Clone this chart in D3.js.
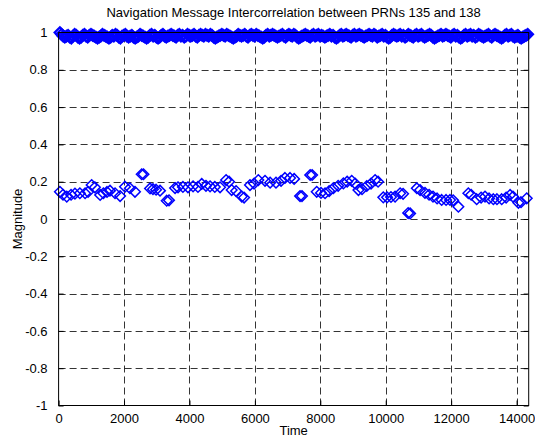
<!DOCTYPE html>
<html><head><meta charset="utf-8">
<script src="https://cdn.jsdelivr.net/npm/d3@7"></script>
<style>
body{margin:0;background:#fff}
text{font-family:"Liberation Sans",Arial,Helvetica,sans-serif;fill:#000}
</style>
</head><body>
<svg id="chart" width="535" height="438"></svg>
<script>
const titleText = "Navigation Message Intercorrelation between PRNs 135 and 138";
const xLabel = "Time";
const yLabel = "Magnitude";
const xTicks = [0, 2000, 4000, 6000, 8000, 10000, 12000, 14000];
const yTicks = [-1, -0.8, -0.6, -0.4, -0.2, 0, 0.2, 0.4, 0.6, 0.8, 1];
const xDomain = [0, 14370];
const yDomain = [-1, 1];

// near-1 series (self correlation), one point every 50 time units
const highTimes = [
40,90,140,190,240,290,340,390,440,490,540,590,640,690,740,790,840,890,940,990,
1040,1090,1140,1190,1240,1290,1340,1390,1440,1490,1540,1590,1640,1690,1740,1790,1840,1890,1940,1990,
2040,2090,2140,2190,2240,2290,2340,2390,2440,2490,2540,2590,2640,2690,2740,2790,2840,2890,2940,2990,
3040,3090,3140,3190,3240,3290,3340,3390,3440,3490,3540,3590,3640,3690,3740,3790,3840,3890,3940,3990,
4040,4090,4140,4190,4240,4290,4340,4390,4440,4490,4540,4590,4640,4690,4740,4790,4840,4890,4940,4990,
5040,5090,5140,5190,5240,5290,5340,5390,5440,5490,5540,5590,5640,5690,5740,5790,5840,5890,5940,5990,
6040,6090,6140,6190,6240,6290,6340,6390,6440,6490,6540,6590,6640,6690,6740,6790,6840,6890,6940,6990,
7040,7090,7140,7190,7240,7290,7340,7390,7440,7490,7540,7590,7640,7690,7740,7790,7840,7890,7940,7990,
8040,8090,8140,8190,8240,8290,8340,8390,8440,8490,8540,8590,8640,8690,8740,8790,8840,8890,8940,8990,
9040,9090,9140,9190,9240,9290,9340,9390,9440,9490,9540,9590,9640,9690,9740,9790,9840,9890,9940,9990,
10040,10090,10140,10190,10240,10290,10340,10390,10440,10490,10540,10590,10640,10690,10740,10790,10840,10890,10940,10990,
11040,11090,11140,11190,11240,11290,11340,11390,11440,11490,11540,11590,11640,11690,11740,11790,11840,11890,11940,11990,
12040,12090,12140,12190,12240,12290,12340,12390,12440,12490,12540,12590,12640,12690,12740,12790,12840,12890,12940,12990,
13040,13090,13140,13190,13240,13290,13340,13390,13440,13490,13540,13590,13640,13690,13740,13790,13840,13890,13940,13990,
14040,14090,14140,14190,14240,14290,14340];
const highValues = [
1,.99,.98,.975,.98,.985,.975,.97,.98,.99,.985,.975,.97,.975,.985,.99,.98,.975,.985,.99,
.985,.98,.975,.97,.975,.98,.99,.985,.98,.975,.97,.975,.985,.98,.99,.985,.975,.97,.98,.985,
.99,.98,.975,.98,.985,.975,.97,.975,.98,.99,.985,.98,.975,.97,.975,.985,.99,.98,.985,.975,
.97,.975,.985,.99,.98,.975,.98,.985,.99,.985,.98,.975,.985,.99,.98,.985,.975,.98,.99,.985,
.98,.985,.99,.98,.975,.985,.99,.985,.98,.99,.985,.98,.99,.985,.975,.97,.975,.98,.985,.99,
.985,.98,.99,.985,.98,.975,.97,.975,.98,.99,.985,.98,.985,.99,.98,.975,.985,.99,.985,.98,
.99,.985,.98,.975,.97,.975,.985,.99,.98,.985,.99,.985,.98,.975,.98,.985,.99,.98,.975,.985,
.99,.985,.98,.99,.985,.975,.97,.975,.98,.985,.99,.985,.98,.975,.985,.99,.98,.985,.99,.98,
.985,.98,.975,.98,.985,.99,.98,.985,.975,.97,.975,.985,.99,.98,.985,.99,.985,.98,.975,.985,
.99,.98,.985,.99,.985,.98,.975,.98,.985,.99,.985,.98,.99,.985,.975,.98,.985,.99,.98,.985,
.975,.97,.975,.985,.99,.985,.98,.985,.99,.98,.985,.975,.98,.99,.985,.98,.975,.985,.99,.98,
.985,.99,.98,.975,.98,.985,.99,.985,.975,.97,.975,.98,.985,.99,.98,.985,.99,.985,.98,.975,
.985,.99,.98,.985,.975,.97,.975,.985,.99,.98,.985,.99,.98,.985,.975,.98,.99,.985,.98,.975,
.98,.985,.99,.98,.975,.985,.99,.985,.98,.975,.97,.975,.985,.99,.98,.985,.99,.98,.975,.98,
.985,.975,.97,.975,.98,.985,.99];

// cross-correlation series
const lowTimes = [40,135,250,380,500,650,810,900,1010,1110,1270,1370,1480,1570,1725,1880,2030,2180,2335,2540,
2595,2795,2885,2980,3100,3305,3375,3560,3650,3800,3955,4110,4260,4375,4505,4630,4775,4935,5120,5210,
5290,5425,5600,5670,5850,5975,6105,6310,6465,6645,6800,6920,7075,7200,7380,7440,7690,7750,7890,8020,
8145,8270,8400,8545,8705,8820,8960,9065,9165,9275,9420,9550,9675,9765,9925,10040,10160,10285,10440,10530,
10685,10745,10950,11050,11200,11325,11445,11570,11710,11845,11965,12060,12220,12525,12610,12780,12915,13035,13160,13290,
13400,13545,13680,13800,13890,14055,14135,14310];
const lowValues = [0.146,0.13,0.12,0.13,0.136,0.138,0.138,0.145,0.182,0.17,0.129,0.138,0.145,0.152,0.138,0.123,0.173,0.165,0.146,0.24,
0.24,0.164,0.16,0.157,0.152,0.098,0.1,0.166,0.17,0.172,0.17,0.175,0.172,0.188,0.178,0.175,0.172,0.17,0.209,0.2,
0.155,0.15,0.12,0.115,0.182,0.19,0.209,0.205,0.195,0.195,0.205,0.22,0.22,0.215,0.123,0.123,0.236,0.236,0.146,0.14,
0.138,0.15,0.165,0.178,0.191,0.2,0.205,0.19,0.155,0.16,0.177,0.19,0.209,0.2,0.116,0.116,0.118,0.12,0.138,0.135,
0.032,0.03,0.165,0.155,0.14,0.13,0.12,0.11,0.102,0.102,0.102,0.1,0.066,0.138,0.13,0.106,0.115,0.12,0.11,0.106,
0.106,0.106,0.115,0.129,0.12,0.087,0.09,0.111];

const mLeft = 58.6, mRight = 528.7, mTop = 32.5, mBottom = 405.5;
const svg = d3.select("#chart");

const x = d3.scaleLinear().domain(xDomain).range([mLeft, mRight]);
const y = d3.scaleLinear().domain(yDomain).range([mBottom, mTop]);

// grid
const grid = svg.append("g").attr("stroke", "#000").attr("stroke-width", 0.8).attr("stroke-dasharray", "7,4");
grid.selectAll("line.v").data(xTicks.filter(t => t > xDomain[0] && t < xDomain[1])).enter().append("line")
  .attr("x1", d => Math.round(x(d)) + 0.5).attr("x2", d => Math.round(x(d)) + 0.5)
  .attr("y1", mBottom).attr("y2", mTop);
grid.selectAll("line.h").data(yTicks.filter(t => t > yDomain[0] && t < yDomain[1])).enter().append("line")
  .attr("y1", d => Math.round(y(d)) + 0.5).attr("y2", d => Math.round(y(d)) + 0.5)
  .attr("x1", mLeft).attr("x2", mRight);

// axes
const fmtY = d => String(+d.toFixed(1));
const axB = d3.axisBottom(x).tickValues(xTicks).tickSize(-5).tickPadding(8).tickFormat(d3.format("d"));
const axT = d3.axisTop(x).tickValues(xTicks).tickSize(-5).tickFormat("");
const axL = d3.axisLeft(y).tickValues(yTicks).tickSize(-5).tickPadding(11).tickFormat(fmtY);
const axR = d3.axisRight(y).tickValues(yTicks).tickSize(-5).tickFormat("");

function style(g) {
  g.select(".domain").remove();
  g.selectAll("line").attr("stroke", "#000");
  g.selectAll("text").attr("font-size", 13).attr("font-family", '"Liberation Sans",Arial,sans-serif').attr("fill", "#000");
}
svg.append("g").attr("transform", `translate(0,${mBottom})`).call(axB).call(style);
svg.append("g").attr("transform", `translate(0,${mTop})`).call(axT).call(style);
svg.append("g").attr("transform", `translate(${mLeft},0)`).call(axL).call(style);
svg.append("g").attr("transform", `translate(${mRight},0)`).call(axR).call(style);

// markers
const diamond = "M0,-5.3 L5.3,0 L0,5.3 L-5.3,0 Z";
const plot = svg.append("g");
function drawSeries(times, values, sw) {
  plot.append("g").selectAll("path").data(times.map((t, i) => [t, values[i]])).enter().append("path")
    .attr("d", diamond)
    .attr("transform", d => `translate(${x(d[0])},${y(d[1])})`)
    .attr("fill", "none").attr("stroke", "#0000ff").attr("stroke-width", sw);
}
drawSeries(highTimes, highValues, 2.2);
drawSeries(lowTimes, lowValues, 1.5);

// box
svg.append("rect").attr("x", mLeft).attr("y", mTop).attr("width", mRight - mLeft).attr("height", mBottom - mTop)
  .attr("fill", "none").attr("stroke", "#000").attr("stroke-width", 1);

// labels
svg.append("text").attr("x", (mLeft + mRight) / 2).attr("y", 17).attr("text-anchor", "middle").attr("font-size", 13).text(titleText);
svg.append("text").attr("x", (mLeft + mRight) / 2).attr("y", 435).attr("text-anchor", "middle").attr("font-size", 13).text(xLabel);
svg.append("text").attr("transform", `translate(21.5,${y(0)}) rotate(-90)`).attr("text-anchor", "middle").attr("font-size", 13).text(yLabel);
</script>
</body></html>
